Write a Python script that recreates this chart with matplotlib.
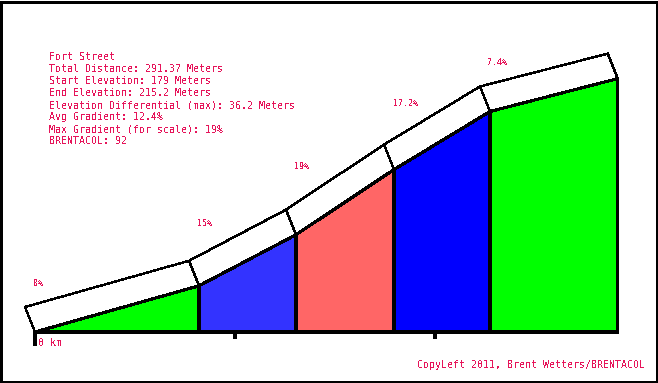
import matplotlib
matplotlib.use("Agg")
import matplotlib.pyplot as plt
from matplotlib.patches import Polygon, Rectangle

plt.rcParams['text.antialiased'] = False

# ---- data ----
boundaries_m = [0, 82, 130.5, 179.5, 227.5, 291.37]          # distance (m)
elevations_m = [179, 185.6, 192.9, 202.2, 210.5, 215.2]      # elevation (m)
gradients = ["8%", "15%", "19%", "17.2%", "7.4%"]
seg_colors = ["#00FF00", "#3333FF", "#FF6666", "#0000FF", "#00FF00"]
info_lines = [
    "Fort Street",
    "Total Distance: 291.37 Meters",
    "Start Elevation: 179 Meters",
    "End Elevation: 215.2 Meters",
    "Elevation Differential (max): 36.2 Meters",
    "Avg Gradient: 12.4%",
    "Max Gradient (for scale): 19%",
    "BRENTACOL: 92",
]
tick_positions = [100, 200]
copyright = "CopyLeft 2011, Brent Wetters/BRENTACOL"

# ---- layout / style ----
W, H = 658, 383
fig = plt.figure(figsize=(W / 100, H / 100), dpi=100)
ax = fig.add_axes([0, 0, 1, 1])
ax.set_axis_off()
XPX, YPX = 2.0, 7.0       # pixels per metre (x, y)
x0px, y0px = 35, 332      # pixel position of (0 m, 179 m)
ax.set_xlim(-x0px / XPX, (W - x0px) / XPX)
ax.set_ylim(elevations_m[0] - (H - y0px) / YPX, elevations_m[0] + y0px / YPX)

txt_color = "#E6145A"
mono = "DejaVu Sans Mono"
off_x, off_y = -10 / XPX, 25 / YPX   # 3D band offset

base = elevations_m[0]
# band (white strip)
for i in range(len(gradients)):
    x1, x2 = boundaries_m[i], boundaries_m[i + 1]
    e1, e2 = elevations_m[i], elevations_m[i + 1]
    quad = [(x1, e1), (x2, e2), (x2 + off_x, e2 + off_y), (x1 + off_x, e1 + off_y)]
    ax.add_patch(Polygon(quad, closed=True, facecolor="white", edgecolor="black",
                         linewidth=1.0, antialiased=False, zorder=2))

# coloured segments
for i in range(len(gradients)):
    x1, x2 = boundaries_m[i], boundaries_m[i + 1]
    e1, e2 = elevations_m[i], elevations_m[i + 1]
    poly = [(x1, base), (x1, e1), (x2, e2), (x2, base)]
    ax.add_patch(Polygon(poly, closed=True, facecolor=seg_colors[i], edgecolor="black",
                         linewidth=1.5, antialiased=False, zorder=3))

# baseline & ticks
ax.plot([boundaries_m[0], boundaries_m[-1]], [base, base], color="black", lw=1.6,
        antialiased=False, zorder=4, solid_capstyle="butt")
ax.vlines(tick_positions, base - 7 / YPX, base, color="black", lw=1.6, antialiased=False, zorder=4)
ax.vlines([0], base - 14 / YPX, base, color="black", lw=1.6, antialiased=False, zorder=4)
ax.text(1.5, base - 11 / YPX, "0 km", fontsize=7.2, family=mono, color=txt_color,
        va="center", ha="left")

# gradient labels
label_dy_px = [49, 62, 68, 66, 49]
label_dx_px = [-2, -2, -2, -1, -3]
for i, g in enumerate(gradients):
    ax.text(boundaries_m[i] + label_dx_px[i] / XPX, elevations_m[i] + label_dy_px[i] / YPX, g,
            fontsize=6, family=mono, color=txt_color, va="center", ha="left", zorder=5)

# info block
for k, line in enumerate(info_lines):
    fig.text(49 / W, 1 - (57 + 12 * k) / H, line, fontsize=7.2, family=mono,
             color=txt_color, va="center", ha="left")

fig.text(645 / W, 1 - 365 / H, copyright, fontsize=7.2, family=mono,
         color=txt_color, va="center", ha="right")

# frame
fig.patches.append(Rectangle((1 / W, 1 / H), (W - 2.5) / W, (H - 2.5) / H,
                             transform=fig.transFigure, fill=False, edgecolor="black",
                             linewidth=1.8, antialiased=False))

fig.savefig("out.png", dpi=100)
